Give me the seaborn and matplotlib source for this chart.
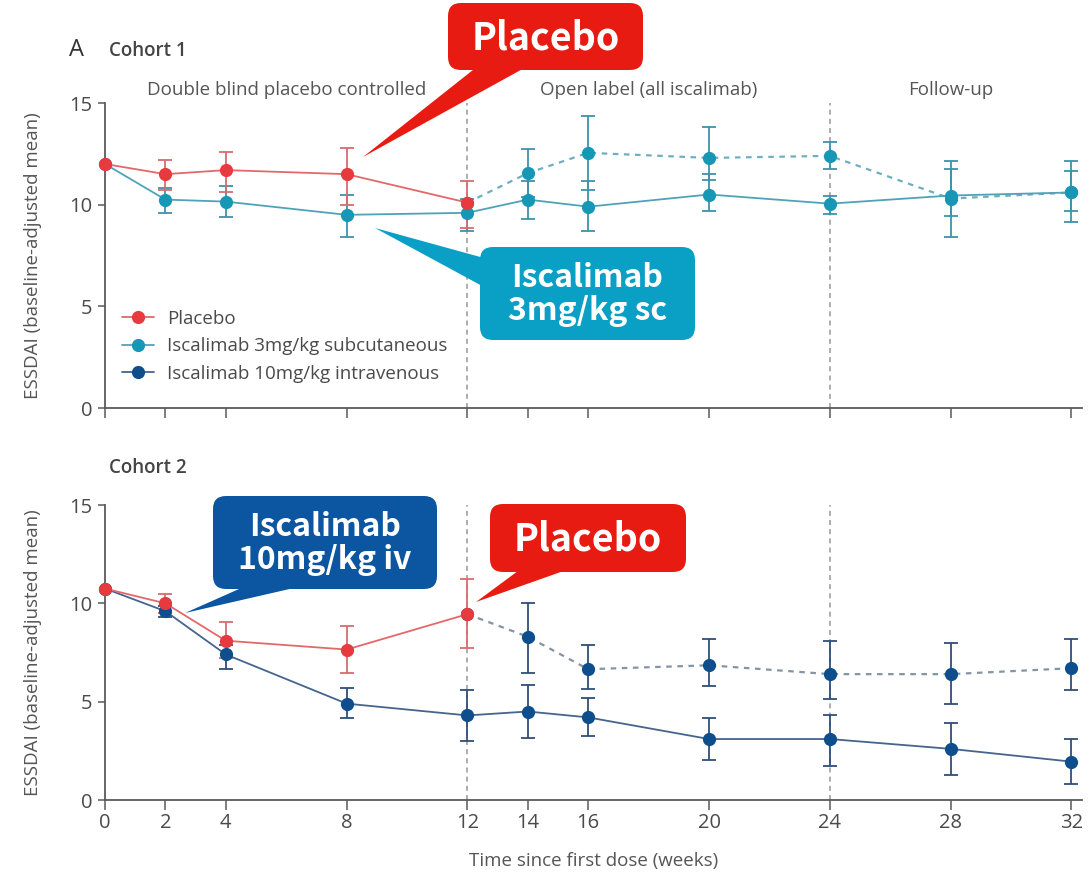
import numpy as np
import pandas as pd
import matplotlib
matplotlib.use("Agg")
import matplotlib.pyplot as plt
import matplotlib.transforms as mtransforms
from matplotlib.patches import FancyBboxPatch, Polygon
from matplotlib.lines import Line2D
import seaborn as sns

# ---------------- data ----------------
weeks_dbl = [0, 2, 4, 8, 12]
weeks_all = [0, 2, 4, 8, 12, 14, 16, 20, 24, 28, 32]
weeks_switch = [12, 14, 16, 20, 24, 28, 32]
week_ticks = [0, 2, 4, 8, 12, 14, 16, 20, 24, 28, 32]
phase_edges = [12, 24]
phase_names = ["Double blind placebo controlled", "Open label (all iscalimab)", "Follow-up"]
phase_centres = [6, 18, 28]

# Cohort 1: placebo vs iscalimab 3 mg/kg sc
c1_pbo = [12.0, 11.5, 11.7, 11.5, 10.1]
c1_pbo_lo = [None, 10.7, 10.6, 10.0, 8.85]
c1_pbo_hi = [None, 12.2, 12.6, 12.8, 11.15]

c1_sc = [12.0, 10.25, 10.15, 9.5, 9.6, 10.25, 9.9, 10.5, 10.05, 10.45, 10.6]
c1_sc_lo = [None, 9.6, 9.4, 8.4, 8.7, 9.3, 8.7, 9.7, 9.55, 9.45, 9.7]
c1_sc_hi = [None, 10.8, 10.9, 10.5, 10.3, 11.15, 11.15, 11.5, 10.45, 11.75, 11.65]

c1_switch = [10.1, 11.55, 12.55, 12.3, 12.4, 10.3, 10.6]
c1_switch_lo = [None, 10.4, 10.7, 11.2, 11.75, 8.4, 9.15]
c1_switch_hi = [None, 12.75, 14.35, 13.8, 13.1, 12.15, 12.15]

# Cohort 2: placebo vs iscalimab 10 mg/kg iv
c2_pbo = [10.75, 10.0, 8.1, 7.65, 9.45]
c2_pbo_lo = [None, 9.5, 7.2, 6.45, 7.75]
c2_pbo_hi = [None, 10.45, 9.05, 8.85, 11.25]

c2_iv = [10.75, 9.6, 7.4, 4.9, 4.3, 4.5, 4.2, 3.1, 3.1, 2.6, 1.95]
c2_iv_lo = [None, 9.3, 6.65, 4.15, 3.0, 3.15, 3.25, 2.05, 1.75, 1.25, 0.8]
c2_iv_hi = [None, 9.85, 7.9, 5.7, 5.6, 5.85, 5.2, 4.15, 4.3, 3.9, 3.1]

c2_switch = [9.45, 8.3, 6.65, 6.85, 6.4, 6.4, 6.7]
c2_switch_lo = [None, 6.45, 5.65, 5.8, 5.15, 4.9, 5.6]
c2_switch_hi = [None, 10.0, 7.9, 8.2, 8.1, 8.0, 8.2]

legend_labels = ["Placebo", "Iscalimab 3mg/kg subcutaneous", "Iscalimab 10mg/kg intravenous"]

# ---------------- style ----------------
RED, RED_LINE, RED_ERR = "#E63A3E", "#E2686A", "#D86C6E"
TEAL, TEAL_LINE, TEAL_ERR = "#1797B6", "#4FA3B8", "#3E93AB"
NAVY, NAVY_LINE, NAVY_ERR = "#0E4E8C", "#45658C", "#2F4F77"
TEAL_DASH, NAVY_DASH = "#6FAEBF", "#8493A6"
TXT = "#555555"

sns.set_theme(style="ticks")
plt.rcParams["font.family"] = ["Open Sans", "DejaVu Sans"]

W, H = 1091, 872
fig = plt.figure(figsize=(W / 100, H / 100), dpi=100)
fig.patch.set_facecolor("white")

# pixel (x right, y down) -> figure
px = mtransforms.Affine2D().scale(1 / W, -1 / H).translate(0, 1) + fig.transFigure


def axes_rect(left, top, right, bottom):
    return [left / W, 1 - bottom / H, (right - left) / W, (bottom - top) / H]


ax1 = fig.add_axes(axes_rect(105, 103, 1082, 408))
ax2 = fig.add_axes(axes_rect(105, 505, 1082, 800))

MS = 9.5


def series(ax, weeks, vals, color, ls="-", lw=1.3, z=3):
    df = pd.DataFrame({"week": weeks, "value": vals})
    sns.lineplot(data=df, x="week", y="value", ax=ax, color=color, linestyle=ls,
                 linewidth=lw, marker="o", markersize=MS, markeredgewidth=0,
                 errorbar=None, sort=False, zorder=z, clip_on=False)


def recolour_markers(ax, color):
    ln = ax.lines[-1]
    ln.set_markerfacecolor(color)
    ln.set_markeredgecolor(color)


def bars(ax, weeks, vals, lo, hi, color):
    x, m, el, eh = [], [], [], []
    for w, v, l, h in zip(weeks, vals, lo, hi):
        if l is None:
            continue
        x.append(w); m.append(v); el.append(v - l); eh.append(h - v)
    ax.errorbar(x, m, yerr=[el, eh], fmt="none", ecolor=color, elinewidth=1.3,
                capsize=5, capthick=1.3, zorder=2, clip_on=False)


def panel(ax, pbo, pbo_lo, pbo_hi, drug, drug_lo, drug_hi, sw, sw_lo, sw_hi,
          dcol, dline, derr, dash_col):
    for e in phase_edges:
        ax.axvline(e, color="#A0A0A0", lw=1.2, ls=(0, (3, 2.5)), zorder=1)
    bars(ax, weeks_switch, sw, sw_lo, sw_hi, derr)
    bars(ax, weeks_all, drug, drug_lo, drug_hi, derr)
    bars(ax, weeks_dbl, pbo, pbo_lo, pbo_hi, RED_ERR)
    series(ax, weeks_switch, sw, dash_col, ls=(0, (2.5, 2.5)), lw=1.6, z=3)
    recolour_markers(ax, dcol)
    series(ax, weeks_all, drug, dline, z=4)
    recolour_markers(ax, dcol)
    series(ax, weeks_dbl, pbo, RED_LINE, z=5)
    recolour_markers(ax, RED)

    ax.set_xlim(0, 32.35)
    ax.set_ylim(0, 15)
    ax.set_yticks([0, 5, 10, 15])
    ax.set_xticks(week_ticks)
    ax.set_xlabel("")
    ax.set_ylabel("ESSDAI (baseline-adjusted mean)", fontsize=13.5, color=TXT, labelpad=20)
    for s in ("top", "right"):
        ax.spines[s].set_visible(False)
    for s in ("left", "bottom"):
        ax.spines[s].set_color("#5A5A5A")
        ax.spines[s].set_linewidth(1.3)
    ax.spines["bottom"].set_bounds(0, 32.35)
    ax.tick_params(axis="y", length=5, width=1.1, color="#5A5A5A", pad=4,
                   labelsize=14.5, labelcolor="#4A4A4A")
    ax.tick_params(axis="x", length=7, width=1.1, color="#5A5A5A", pad=2,
                   labelsize=14.5, labelcolor="#4A4A4A")
    ax.set_facecolor("white")
    ax.grid(False)


panel(ax1, c1_pbo, c1_pbo_lo, c1_pbo_hi, c1_sc, c1_sc_lo, c1_sc_hi,
      c1_switch, c1_switch_lo, c1_switch_hi, TEAL, TEAL_LINE, TEAL_ERR, TEAL_DASH)
panel(ax2, c2_pbo, c2_pbo_lo, c2_pbo_hi, c2_iv, c2_iv_lo, c2_iv_hi,
      c2_switch, c2_switch_lo, c2_switch_hi, NAVY, NAVY_LINE, NAVY_ERR, NAVY_DASH)

ax1.tick_params(axis="x", labelbottom=False)
ax2.set_xlabel("Time since first dose (weeks)", fontsize=13.5, color=TXT, labelpad=14)

for name, c in zip(phase_names, phase_centres):
    ax1.text(c, 15.65, name, ha="center", va="center", fontsize=13.5, color=TXT, clip_on=False)

# panel headings
fig.text(69, 50, "A", transform=px, fontsize=17, color="#333333", va="center", ha="left")
fig.text(109, 51, "Cohort 1", transform=px, fontsize=13.5, fontweight="semibold",
         color="#444444", va="center", ha="left")
fig.text(109, 468, "Cohort 2", transform=px, fontsize=13.5, fontweight="semibold",
         color="#444444", va="center", ha="left")

# legend
handles = [Line2D([], [], color=c, lw=1.3, marker="o", markersize=MS,
                  markerfacecolor=m, markeredgewidth=0)
           for c, m in [(RED_LINE, RED), (TEAL_LINE, TEAL), (NAVY_LINE, NAVY)]]
leg = ax1.legend(handles, legend_labels, loc="upper left",
                 bbox_to_anchor=(122 / W, 1 - 310 / H), bbox_transform=fig.transFigure,
                 frameon=False, fontsize=13.5, handlelength=1.7, handletextpad=0.7,
                 labelspacing=0.5, borderpad=0, borderaxespad=0)
for t in leg.get_texts():
    t.set_color("#4A4A4A")


# speech-bubble callouts
def callout(box, tri, color, text, size):
    x0, y0, x1, y1 = box
    fig.add_artist(Polygon(tri, closed=True, transform=px, facecolor=color,
                           edgecolor="none", zorder=20))
    fig.add_artist(FancyBboxPatch((x0, y0), x1 - x0, y1 - y0,
                                  boxstyle="round,pad=0,rounding_size=13",
                                  transform=px, facecolor=color, edgecolor="none", zorder=21))
    fig.text((x0 + x1) / 2, (y0 + y1) / 2 + 1, text, transform=px, ha="center", va="center",
             color="white", fontsize=size, fontweight="bold", linespacing=1.05,
             family=["Noto Sans CJK JP", "DejaVu Sans"], zorder=22)


CALLOUT_RED, CALLOUT_TEAL, CALLOUT_NAVY = "#E81B12", "#0AA0C6", "#0C55A0"
callout((448, 3, 643, 70), [(478, 66), (528, 66), (363, 157)], CALLOUT_RED, "Placebo", 27)
callout((480, 247, 695, 340), [(484, 258), (484, 287), (375, 228)], CALLOUT_TEAL,
        "Iscalimab\n3mg/kg sc", 23)
callout((213, 496, 437, 589), [(248, 585), (307, 585), (185, 613)], CALLOUT_NAVY,
        "Iscalimab\n10mg/kg iv", 23)
callout((490, 504, 686, 572), [(522, 568), (572, 568), (476, 602)], CALLOUT_RED, "Placebo", 27)

fig.savefig("out.png", dpi=100, facecolor="white")
